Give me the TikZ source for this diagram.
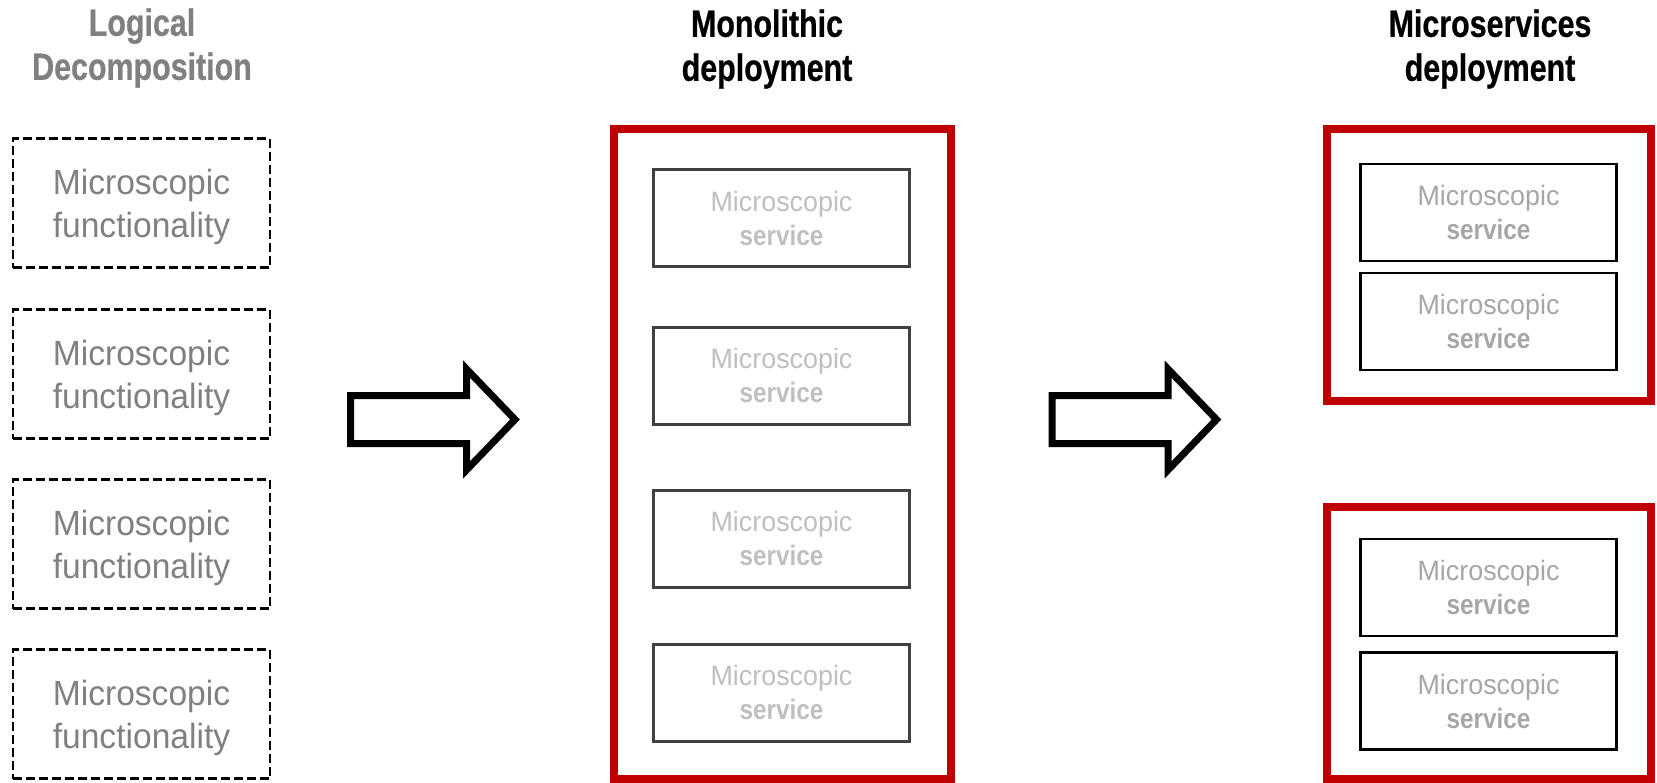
\documentclass[tikz,border=0pt]{standalone}
\usepackage{fontspec}
\setmainfont{Liberation Sans}
\newfontfamily\headfont[FakeStretch=0.80, FakeBold=0.6]{Liberation Sans}
\newfontfamily\bodyfont[FakeStretch=0.96]{Liberation Sans}
\newfontfamily\svcbold[FakeStretch=0.87]{Liberation Sans}

\definecolor{deployred}{RGB}{192,0,0}
\definecolor{headgray}{RGB}{128,128,128}
\definecolor{funcgray}{RGB}{128,128,128}
\definecolor{monotext}{RGB}{191,191,191}
\definecolor{monoline}{RGB}{64,64,64}
\definecolor{microtext}{RGB}{166,166,166}

\tikzset{
  heading/.style={anchor=south, inner sep=0pt, text depth=0pt, align=center,
    font=\headfont\bfseries\fontsize{38}{44}\selectfont},
  funcbox/.style={draw=black, line width=2.5pt, dash pattern=on 9pt off 4pt,
    minimum width=257pt, minimum height=129pt, inner sep=0pt, text depth=0pt,
    align=center, text=funcgray, font=\bodyfont\fontsize{35}{43}\selectfont},
  svcbox/.style={draw, minimum width=256pt, minimum height=97pt, inner sep=0pt,
    text depth=0pt, align=center, font=\bodyfont\fontsize{28}{34}\selectfont},
  monosvc/.style={svcbox, draw=monoline, line width=3pt, text=monotext},
  microsvc/.style={svcbox, draw=black, line width=2.5pt, text=microtext},
  container/.style={draw=deployred, line width=8pt, inner sep=0pt},
  blockarrow/.style={draw=black, line width=7pt, fill=white, line join=miter, miter limit=10}
}

\newcommand{\svctext}{Microscopic\\{\svcbold\bfseries service}}

\begin{document}
\begin{tikzpicture}[x=1pt, y=-1pt]
  \useasboundingbox (0,0) rectangle (1657,782);

  % column headings
  \node[heading, text=headgray] (hLogical) at (142,80) {Logical\\Decomposition};
  \node[heading] (hMono) at (767,81) {Monolithic\\deployment};
  \node[heading] (hMicro) at (1490,81) {Microservices\\deployment};

  % logical decomposition
  \node[funcbox] (f1) at (141.5,203) {Microscopic\\functionality};
  \node[funcbox] (f2) at (141.5,374) {Microscopic\\functionality};
  \node[funcbox] (f3) at (141.5,544) {Microscopic\\functionality};
  \node[funcbox] (f4) at (141.5,714) {Microscopic\\functionality};

  % monolithic deployment
  \node[container, minimum width=337.5pt, minimum height=650pt] (mono) at (782.25,454) {};
  \node[monosvc] (m1) at (781.5,218) {\svctext};
  \node[monosvc] (m2) at (781.5,375.5) {\svctext};
  \node[monosvc] (m3) at (781.5,538.5) {\svctext};
  \node[monosvc] (m4) at (781.5,692.5) {\svctext};

  % microservices deployment
  \node[container, minimum width=324pt, minimum height=272pt] (depA) at (1489,265) {};
  \node[microsvc] (s1) at (1488.5,212.5) {\svctext};
  \node[microsvc] (s2) at (1488.5,321.5) {\svctext};
  \node[container, minimum width=324pt, minimum height=272pt] (depB) at (1489,643) {};
  \node[microsvc] (s3) at (1488.5,587.5) {\svctext};
  \node[microsvc] (s4) at (1488.5,701) {\svctext};

  % transition arrows
  \foreach \dx in {0,701.5}{
    \draw[blockarrow, shift={(\dx,0)}]
      (350.5,395.5) -- (466.5,395.5) -- (466.5,369) -- (515,419.5)
      -- (466.5,470) -- (466.5,443.5) -- (350.5,443.5) -- cycle;
  }
\end{tikzpicture}
\end{document}
